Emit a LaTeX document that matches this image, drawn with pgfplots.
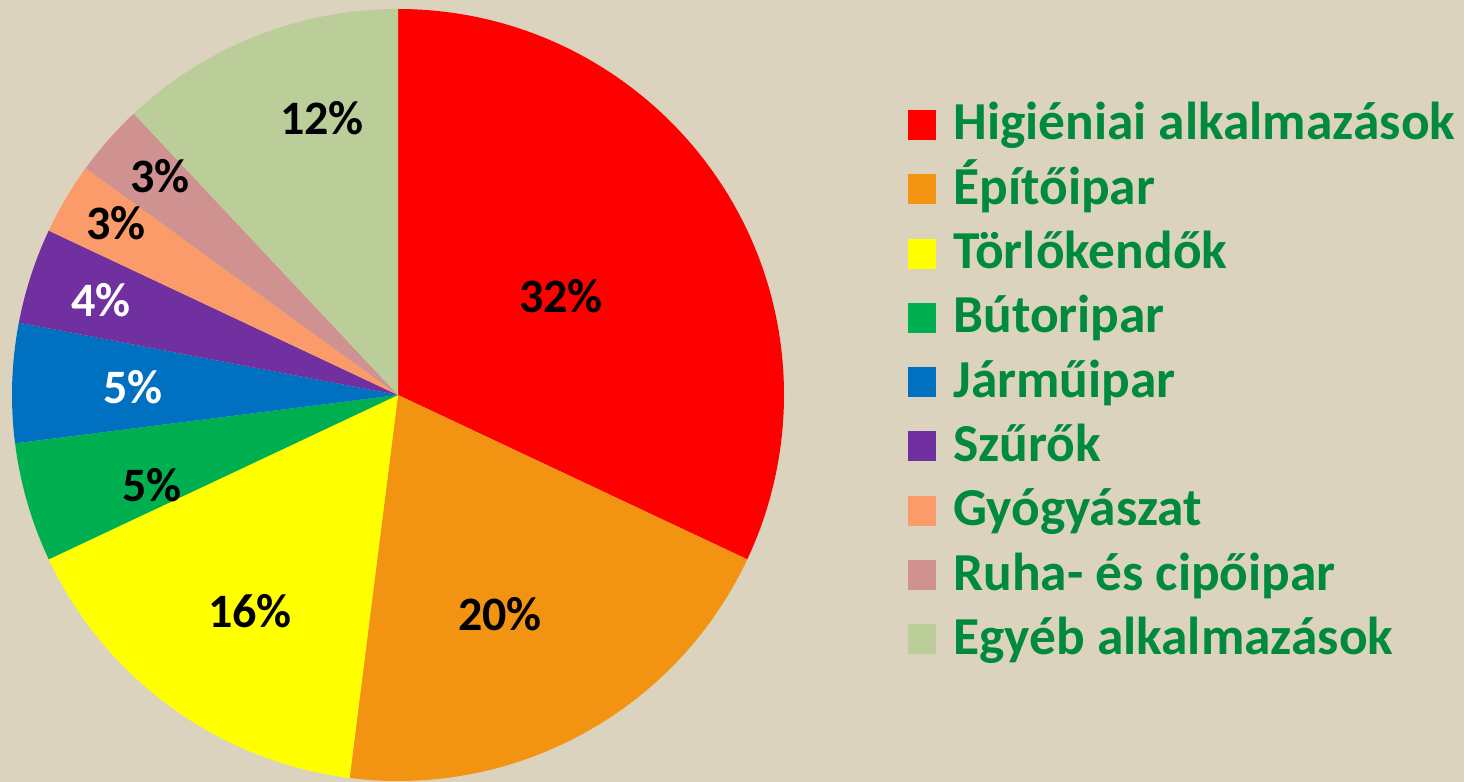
\documentclass[border=0pt]{standalone}
\usepackage{pgfplots}
\pgfplotsset{compat=1.18}
\usepackage{fontspec}
\setmainfont{Carlito}

\definecolor{bg}{RGB}{220,211,190}
\definecolor{legtext}{RGB}{0,138,62}
\definecolor{cRed}{RGB}{255,0,0}
\definecolor{cOrange}{RGB}{242,148,17}
\definecolor{cYellow}{RGB}{255,255,0}
\definecolor{cGreen}{RGB}{0,176,80}
\definecolor{cBlue}{RGB}{0,112,192}
\definecolor{cPurple}{RGB}{112,48,160}
\definecolor{cLOrange}{RGB}{250,155,105}
\definecolor{cPink}{RGB}{208,145,145}
\definecolor{cLGreen}{RGB}{187,205,152}

\begin{document}
\begin{tikzpicture}
\begin{axis}[
    width=732pt, height=391pt, scale only axis,
    xmin=0, xmax=1464, ymin=0, ymax=782,
    enlargelimits=false, hide axis, clip=false
]
% 1 axis unit = 0.5pt, pie centre (398,387), radius 386 units
\pgfplotsextra{
  \fill[bg] (axis cs:0,0) rectangle (axis cs:1464,782);
  \gdef\cur{90}
  \foreach \v/\c in {32/cRed,20/cOrange,16/cYellow,5/cGreen,5/cBlue,4/cPurple,3/cLOrange,3/cPink,12/cLGreen}{
    \pgfmathsetmacro\nxt{\cur-3.6*\v}
    \fill[\c] (axis cs:398,387) -- ++(\cur:193pt) arc[start angle=\cur, end angle=\nxt, radius=193pt] -- cycle;
    \global\let\cur\nxt
  }
  % slice labels
  \foreach \x/\y/\t/\col in {561/296/32/black,500/614/20/black,250/611/16/black,152/485/5/black,
      133/387/5/white,101/300/4/white,116/223/3/black,160/176/3/black,322/118/12/black}{
    \node[font=\fontsize{24}{24}\selectfont\bfseries, text=\col, inner sep=0pt]
      at (axis cs:\x,782-\y) {\t\%};
  }
  % legend
  \foreach \i/\c/\lab in {0/cRed/Higiéniai alkalmazások,1/cOrange/Építőipar,2/cYellow/Törlőkendők,
      3/cGreen/Bútoripar,4/cBlue/Járműipar,5/cPurple/Szűrők,6/cLOrange/Gyógyászat,
      7/cPink/Ruha- és cipőipar,8/cLGreen/Egyéb alkalmazások}{
    \fill[\c] (axis cs:908,{782-110-64.3*\i}) rectangle (axis cs:936,{782-140-64.3*\i});
    \node[anchor=base west, inner sep=0pt, font=\fontsize{26.7}{28}\selectfont\bfseries, text=legtext]
      at (axis cs:953,{782-140-64.3*\i}) {\lab};
  }
}
\end{axis}
\pgfresetboundingbox
\path[use as bounding box] (current axis.south west) rectangle (current axis.north east);
\end{tikzpicture}
\end{document}
